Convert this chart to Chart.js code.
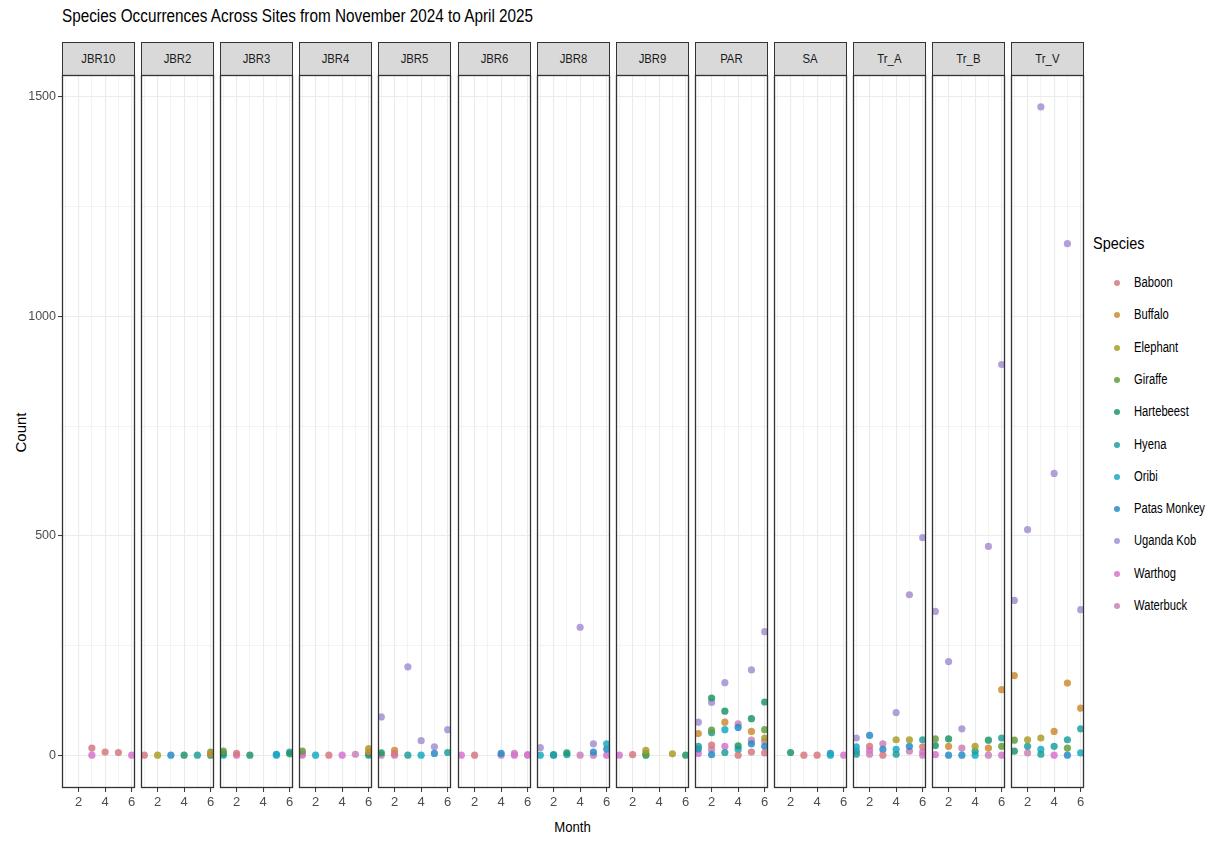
<!DOCTYPE html>
<html>
<head>
<meta charset="utf-8">
<script src="https://cdn.jsdelivr.net/npm/chart.js@4.4.1/dist/chart.umd.min.js"></script>
<style>
  body {
    margin: 0;
    width: 1224px;
    height: 843px;
    overflow: hidden;
    position: relative;
    background: #fff;
    font-family: "Liberation Sans", Arial, sans-serif;
  }
  canvas { position: absolute; }
  .texto { position: absolute; white-space: nowrap; }
  .estreito { display: inline-block; transform: scaleX(0.85); transform-origin: left center; }
  .strip {
    position: absolute;
    top: 42px;
    height: 34px;
    box-sizing: border-box;
    background: #d9d9d9;
    border: 1px solid #333;
    font-size: 13.5px;
    color: #1a1a1a;
    text-align: center;
    line-height: 32px;
  }
  .strip span { display: inline-block; transform: scaleX(0.84); }
  .item { position: absolute; left: 1112px; height: 20px; width: 110px; font-size: 14px; color: #000; white-space: nowrap; }
  .item span.ponto {
    position: absolute; left: 2px; top: 7px; width: 6px; height: 6px; border-radius: 50%;
  }
  .item span.nome { position: absolute; left: 22px; top: 1px; transform: scaleX(0.8); transform-origin: left center; }
</style>
</head>
<body>
<div class="texto" style="left:62px; top:6px; font-size:18px; color:#000;"><span class="estreito">Species Occurrences Across Sites from November 2024 to April 2025</span></div>
<div class="texto" style="left:2px; top:426px; width:36px; text-align:center; font-size:15px; color:#000; transform:rotate(-90deg);">Count</div>
<div class="texto" style="left:523px; top:818px; width:100px; text-align:center; font-size:15.5px; color:#000;"><span class="estreito" style="transform-origin:center;">Month</span></div>
<div class="texto" style="left:1093px; top:234px; font-size:17px; color:#000;"><span class="estreito">Species</span></div>
<div id="legenda"></div>

<script>
const fonte = '"Liberation Sans", Arial, sans-serif';

const locais = ["JBR10", "JBR2", "JBR3", "JBR4", "JBR5", "JBR6", "JBR8", "JBR9", "PAR", "SA", "Tr_A", "Tr_B", "Tr_V"];
const especies = ["Baboon", "Buffalo", "Elephant", "Giraffe", "Hartebeest", "Hyena", "Oribi", "Patas Monkey", "Uganda Kob", "Warthog", "Waterbuck"];
const cores = [
  "rgba(214, 120, 128, 0.85)",
  "rgba(205, 140, 50, 0.85)",
  "rgba(170, 158, 40, 0.85)",
  "rgba(100, 158, 60, 0.85)",
  "rgba(30, 150, 105, 0.85)",
  "rgba(30, 160, 155, 0.85)",
  "rgba(25, 170, 195, 0.85)",
  "rgba(40, 140, 200, 0.85)",
  "rgba(165, 145, 210, 0.85)",
  "rgba(215, 115, 205, 0.85)",
  "rgba(200, 130, 185, 0.85)",
];
const mesesTicks = [1, 2, 3, 4, 5, 6];
const mesesRotulos = [2, 4, 6];
const contagemTicks = [0, 250, 500, 750, 1000, 1250, 1500];
const contagemRotulos = [0, 500, 1000, 1500];

// cada linha: [mes, especie, contagem]
const JBR10 = [[3, "Baboon", 17], [3, "Warthog", 1], [4, "Baboon", 8], [5, "Baboon", 7], [6, "Warthog", 1]];
const JBR2 = [[1, "Baboon", 1], [2, "Elephant", 1], [3, "Patas Monkey", 1], [4, "Hartebeest", 1], [5, "Hyena", 1],
  [6, "Giraffe", 8], [6, "Buffalo", 4], [6, "Hartebeest", 1]];
const JBR3 = [[1, "Giraffe", 10], [1, "Hartebeest", 5], [1, "Oribi", 1], [2, "Baboon", 5], [2, "Warthog", 1],
  [3, "Hartebeest", 1], [5, "Patas Monkey", 3], [5, "Oribi", 1], [6, "Hyena", 8], [6, "Hartebeest", 4]];
const JBR4 = [[1, "Giraffe", 10], [1, "Warthog", 4], [1, "Waterbuck", 1], [2, "Oribi", 1], [3, "Baboon", 1],
  [4, "Warthog", 1], [5, "Waterbuck", 3], [6, "Elephant", 16], [6, "Buffalo", 9], [6, "Hartebeest", 4], [6, "Hyena", 1]];
const JBR5 = [[1, "Uganda Kob", 88], [1, "Hartebeest", 6], [1, "Waterbuck", 1], [2, "Buffalo", 12], [2, "Baboon", 5],
  [2, "Warthog", 1], [3, "Uganda Kob", 202], [3, "Hyena", 1], [4, "Uganda Kob", 34], [4, "Oribi", 1],
  [5, "Uganda Kob", 20], [5, "Patas Monkey", 5], [6, "Uganda Kob", 59], [6, "Hyena", 7]];
const JBR6 = [[1, "Warthog", 1], [2, "Baboon", 1], [4, "Patas Monkey", 5], [4, "Waterbuck", 1], [5, "Waterbuck", 5],
  [5, "Warthog", 1], [6, "Warthog", 2], [6, "Waterbuck", 1]];
const JBR8 = [[1, "Uganda Kob", 18], [1, "Oribi", 1], [2, "Hyena", 2], [2, "Patas Monkey", 1], [3, "Hartebeest", 6],
  [3, "Oribi", 2], [4, "Uganda Kob", 292], [4, "Waterbuck", 1], [5, "Uganda Kob", 27], [5, "Patas Monkey", 8],
  [5, "Waterbuck", 1], [6, "Oribi", 27], [6, "Patas Monkey", 15], [6, "Warthog", 1]];
const JBR9 = [[1, "Warthog", 1], [2, "Baboon", 2], [3, "Elephant", 12], [3, "Giraffe", 5], [3, "Hartebeest", 1],
  [5, "Elephant", 4], [6, "Hartebeest", 1]];
const PAR = [[1, "Uganda Kob", 76], [1, "Buffalo", 50], [1, "Hyena", 21], [1, "Patas Monkey", 15], [1, "Warthog", 5],
  [2, "Hartebeest", 131], [2, "Uganda Kob", 121], [2, "Giraffe", 58], [2, "Hyena", 52], [2, "Baboon", 24],
  [2, "Waterbuck", 14], [2, "Patas Monkey", 2],
  [3, "Uganda Kob", 166], [3, "Hartebeest", 101], [3, "Buffalo", 76], [3, "Oribi", 59], [3, "Warthog", 21], [3, "Hyena", 7],
  [4, "Waterbuck", 72], [4, "Patas Monkey", 64], [4, "Hartebeest", 22], [4, "Oribi", 14], [4, "Baboon", 1],
  [5, "Uganda Kob", 195], [5, "Hartebeest", 84], [5, "Buffalo", 55], [5, "Waterbuck", 35], [5, "Patas Monkey", 27],
  [5, "Baboon", 8],
  [6, "Uganda Kob", 282], [6, "Hartebeest", 122], [6, "Giraffe", 59], [6, "Elephant", 40], [6, "Waterbuck", 32],
  [6, "Patas Monkey", 21], [6, "Baboon", 6]];
const SA = [[2, "Hartebeest", 7], [3, "Baboon", 1], [4, "Baboon", 1], [5, "Patas Monkey", 5], [5, "Oribi", 1], [6, "Warthog", 1]];
const Tr_A = [[1, "Uganda Kob", 40], [1, "Oribi", 20], [1, "Patas Monkey", 10], [1, "Hyena", 3],
  [2, "Patas Monkey", 46], [2, "Baboon", 21], [2, "Warthog", 12], [2, "Waterbuck", 3],
  [3, "Waterbuck", 27], [3, "Patas Monkey", 14], [3, "Baboon", 1],
  [4, "Uganda Kob", 98], [4, "Elephant", 36], [4, "Oribi", 14], [4, "Hyena", 3],
  [5, "Uganda Kob", 366], [5, "Elephant", 36], [5, "Patas Monkey", 21], [5, "Waterbuck", 10],
  [6, "Uganda Kob", 496], [6, "Hyena", 36], [6, "Baboon", 20], [6, "Warthog", 8], [6, "Waterbuck", 1]];
const Tr_B = [[1, "Uganda Kob", 328], [1, "Giraffe", 38], [1, "Hartebeest", 23], [1, "Warthog", 2],
  [2, "Uganda Kob", 214], [2, "Hartebeest", 38], [2, "Buffalo", 21], [2, "Patas Monkey", 1],
  [3, "Uganda Kob", 61], [3, "Waterbuck", 17], [3, "Patas Monkey", 1],
  [4, "Elephant", 21], [4, "Hyena", 10], [4, "Oribi", 1],
  [5, "Uganda Kob", 476], [5, "Hartebeest", 35], [5, "Buffalo", 17], [5, "Waterbuck", 1],
  [6, "Uganda Kob", 890], [6, "Buffalo", 150], [6, "Hyena", 40], [6, "Giraffe", 21], [6, "Warthog", 1]];
const Tr_V = [[1, "Uganda Kob", 353], [1, "Buffalo", 182], [1, "Giraffe", 35], [1, "Hartebeest", 10],
  [2, "Uganda Kob", 514], [2, "Elephant", 36], [2, "Hyena", 21], [2, "Waterbuck", 6],
  [3, "Uganda Kob", 1476], [3, "Elephant", 40], [3, "Oribi", 14], [3, "Hyena", 3],
  [4, "Uganda Kob", 642], [4, "Buffalo", 55], [4, "Hyena", 21], [4, "Warthog", 1],
  [5, "Uganda Kob", 1165], [5, "Buffalo", 165], [5, "Hyena", 36], [5, "Giraffe", 17], [5, "Patas Monkey", 1],
  [6, "Uganda Kob", 332], [6, "Buffalo", 108], [6, "Hyena", 61], [6, "Oribi", 6]];

const dadosLocais = [JBR10, JBR2, JBR3, JBR4, JBR5, JBR6, JBR8, JBR9, PAR, SA, Tr_A, Tr_B, Tr_V];

// moldura do painel (theme_bw)
const moldura = {
  id: "moldura",
  afterDraw(chart) {
    const { ctx, chartArea: a } = chart;
    ctx.save();
    ctx.strokeStyle = "#333";
    ctx.lineWidth = 1.3;
    ctx.strokeRect(a.left + 0.5, a.top + 0.5, a.right - a.left - 1, a.bottom - a.top - 1);
    ctx.restore();
  },
};

function criarPainel(i) {
  const primeiro = i === 0;
  const esquerda = Math.round(62 + i * 79.1);
  const largura = 73;
  const eixoY = primeiro ? 40 : 0;

  // faixa com o nome do local
  const strip = document.createElement("div");
  strip.className = "strip";
  strip.style.left = esquerda + "px";
  strip.style.width = largura + "px";
  strip.innerHTML = `<span>${locais[i]}</span>`;
  document.body.appendChild(strip);

  const cvs = document.createElement("canvas");
  cvs.width = largura + 8 + eixoY;
  cvs.height = 10 + 713 + 26;
  cvs.style.left = esquerda - 4 - eixoY + "px";
  cvs.style.top = "65px";
  document.body.appendChild(cvs);

  const datasets = especies.map((esp, k) => ({
    label: esp,
    data: dadosLocais[i]
      .filter((linha) => linha[1] === esp)
      .map((linha) => ({ x: linha[0], y: linha[2] })),
    backgroundColor: cores[k],
    borderWidth: 0,
    pointRadius: 3.6,
  }));

  new Chart(cvs, {
    type: "scatter",
    data: { datasets: datasets },
    plugins: [moldura],
    options: {
      responsive: false,
      animation: false,
      layout: { padding: { top: 10, left: 4, right: 4, bottom: 0 } },
      plugins: { legend: { display: false }, tooltip: { enabled: false } },
      scales: {
        x: {
          type: "linear",
          min: 0.75,
          max: 6.25,
          afterBuildTicks: (s) => {
            s.ticks = mesesTicks.map((v) => ({ value: v }));
          },
          afterFit: (s) => {
            s.height = 26;
          },
          border: { display: false },
          grid: {
            color: "#ebebeb",
            lineWidth: (c) => (c.tick && mesesRotulos.includes(c.tick.value) ? 1.1 : 0.6),
            drawTicks: true,
            tickLength: 4,
            tickWidth: 1,
            tickColor: (c) => (c.tick && mesesRotulos.includes(c.tick.value) ? "#333" : "rgba(0,0,0,0)"),
          },
          ticks: {
            autoSkip: false,
            maxRotation: 0,
            padding: 3,
            color: "#4d4d4d",
            font: { family: fonte, size: 13 },
            callback: (v) => (mesesRotulos.includes(v) ? String(v) : ""),
          },
        },
        y: {
          type: "linear",
          min: -73.75,
          max: 1548.75,
          afterBuildTicks: (s) => {
            s.ticks = contagemTicks.map((v) => ({ value: v }));
          },
          afterFit: (s) => {
            s.width = eixoY;
          },
          border: { display: false },
          grid: {
            color: "#ebebeb",
            lineWidth: (c) => (c.tick && contagemRotulos.includes(c.tick.value) ? 1.1 : 0.6),
            drawTicks: primeiro,
            tickLength: 4,
            tickWidth: 1,
            tickColor: (c) => (c.tick && contagemRotulos.includes(c.tick.value) ? "#333" : "rgba(0,0,0,0)"),
          },
          ticks: {
            display: primeiro,
            autoSkip: false,
            padding: 2,
            color: "#4d4d4d",
            font: { family: fonte, size: 12.5 },
            callback: (v) => (contagemRotulos.includes(v) ? String(v) : ""),
          },
        },
      },
    },
  });
}

function criarLegenda() {
  const legenda = document.getElementById("legenda");
  especies.forEach((esp, k) => {
    const item = document.createElement("div");
    item.className = "item";
    item.style.top = 273 + k * 32.3 + "px";
    item.innerHTML = `<span class="ponto" style="background:${cores[k]}"></span><span class="nome">${esp}</span>`;
    legenda.appendChild(item);
  });
}

locais.forEach((local, i) => criarPainel(i));
criarLegenda();
</script>
</body>
</html>
